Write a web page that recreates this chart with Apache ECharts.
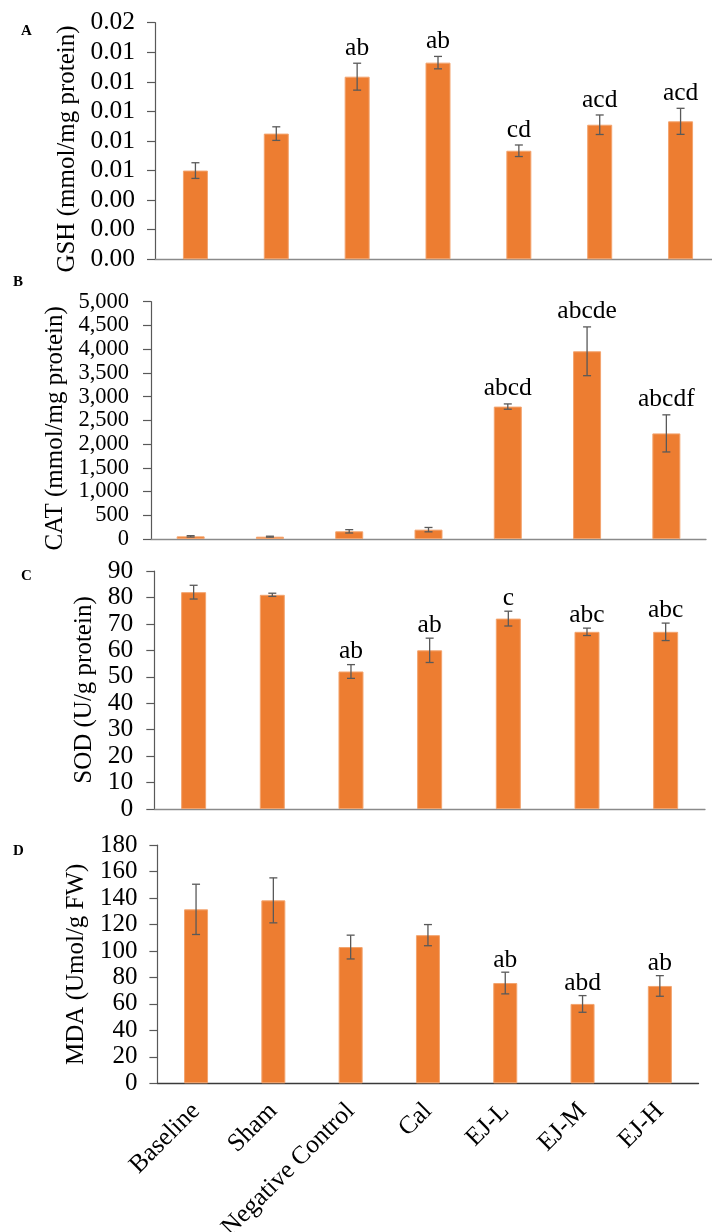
<!DOCTYPE html>
<html>
<head>
<meta charset="utf-8">
<script src="https://cdn.jsdelivr.net/npm/echarts@6/dist/echarts.min.js"></script>
<style>
html,body{margin:0;padding:0;background:#fff;}
#chart{width:712px;height:1232px;}
</style>
</head>
<body>
<div id="chart"></div>
<script>
// ---------- data ----------
const categories = ['Baseline', 'Sham', 'Negative Control', 'Cal', 'EJ-L', 'EJ-M', 'EJ-H'];

const gshMean = [0.0060, 0.0085, 0.01235, 0.0133, 0.00734, 0.0091, 0.00933];
const gshErr  = [0.00053, 0.00046, 0.00091, 0.00042, 0.00039, 0.00066, 0.00088];
const gshSig  = ['', '', 'ab', 'ab', 'cd', 'acd', 'acd'];

const catMean = [56, 49, 162, 197, 2790, 3955, 2225];
const catErr  = [14, 10, 35, 46, 56, 514, 391];
const catSig  = ['', '', '', '', 'abcd', 'abcde', 'abcdf'];

const sodMean = [82, 81, 52, 60, 72, 67, 67];
const sodErr  = [2.6, 0.6, 2.6, 4.6, 2.8, 1.4, 3.3];
const sodSig  = ['', '', 'ab', 'ab', 'c', 'abc', 'abc'];

const mdaMean = [131.5, 138.3, 103, 112, 75.8, 60, 73.6];
const mdaErr  = [19, 17, 9, 8, 8.2, 6.3, 7.8];
const mdaSig  = ['', '', '', '', 'ab', 'abd', 'ab'];

const panelLetters = ['A', 'B', 'C', 'D'];
const axisTitles = ['GSH (mmol/mg protein)', 'CAT (mmol/mg protein)', 'SOD (U/g protein)', 'MDA (Umol/g FW)'];
const yMax = [0.016, 5000, 90, 180];
const yInterval = [0.002, 500, 10, 20];
const tickFormatters = [
  v => v.toFixed(2),
  v => v.toLocaleString('en-US'),
  v => String(v),
  v => String(v)
];

// ---------- layout / style ----------
const SERIF = '"Liberation Serif", "Times New Roman", serif';
const ORANGE = '#ED7D31';
const ERR = '#595959';

const layout = [
  { grid: {left: 155, right: -9, top: 22.7, height: 236.6}, nameGap: 66, shift: 16, barWidth: 25, xLine: '#8a8a8a', margin: 20, fs: 25.5, letter: [21, 24], gap: 7 },
  { grid: {left: 151, right: 6, top: 301.7, height: 237.3}, nameGap: 79, shift: 16, barWidth: 28, xLine: '#8a8a8a', margin: 22, fs: 22.5, letter: [13, 275], gap: 8 },
  { grid: {left: 154.3, right: 7, top: 571, height: 238}, nameGap: 48, shift: 0, barWidth: 25, xLine: '#8a8a8a', margin: 21, fs: 25.5, letter: [21, 569], gap: 5 },
  { grid: {left: 157.4, right: 13.5, top: 845.2, height: 238.1}, nameGap: 56, shift: 0, barWidth: 24, xLine: '#3a3a3a', margin: 20, fs: 25, letter: [13, 844], gap: 4 }
];

const means = [gshMean, catMean, sodMean, mdaMean];
const errs = [gshErr, catErr, sodErr, mdaErr];
const sigs = [gshSig, catSig, sodSig, mdaSig];

function makeRender(p) {
  return function (params, api) {
    const i = api.value(0), m = api.value(1), e = api.value(2);
    const top = api.coord([i, m + e]);
    const bot = api.coord([i, m - e]);
    const x = top[0];
    const cap = 4;
    const ls = {stroke: ERR, lineWidth: 1.3};
    const children = [
      {type: 'line', shape: {x1: x, y1: top[1], x2: x, y2: bot[1]}, style: ls},
      {type: 'line', shape: {x1: x - cap, y1: top[1], x2: x + cap, y2: top[1]}, style: ls},
      {type: 'line', shape: {x1: x - cap, y1: bot[1], x2: x + cap, y2: bot[1]}, style: ls}
    ];
    const s = sigs[p][i];
    if (s) {
      children.push({
        type: 'text', x: x, y: top[1] - layout[p].gap + 5,
        style: {text: s, align: 'center', verticalAlign: 'bottom', fontSize: 25.5, fontFamily: SERIF, fill: '#000'}
      });
    }
    return {type: 'group', children};
  };
}

const grids = [], xAxes = [], yAxes = [], series = [], graphics = [];
for (let p = 0; p < 4; p++) {
  const L = layout[p];
  grids.push(Object.assign({outerBoundsMode: 'none', containLabel: false}, L.grid));
  xAxes.push({
    type: 'category', gridIndex: p, data: categories,
    axisLine: {lineStyle: {color: L.xLine, width: 1.3}},
    axisTick: {show: false},
    axisLabel: p === 3 ? {
      show: true, interval: 0, rotate: 45, margin: 24, hideOverlap: false,
      fontSize: 25.5, fontFamily: SERIF, color: '#000'
    } : {show: false}
  });
  yAxes.push({
    type: 'value', gridIndex: p, min: 0, max: yMax[p], interval: yInterval[p],
    name: axisTitles[p], nameLocation: 'middle', nameGap: L.nameGap,
    nameTextStyle: {fontSize: 25, fontFamily: SERIF, color: '#000', padding: [0, L.shift, 0, 0]},
    axisLine: {show: true, lineStyle: {color: '#595959', width: 1.2}},
    axisTick: {show: true, length: 8, lineStyle: {color: '#595959', width: 1.2}},
    splitLine: {show: false},
    axisLabel: {fontSize: L.fs, fontFamily: SERIF, color: '#000', margin: L.margin,
      showMinLabel: true, showMaxLabel: true, hideOverlap: false, formatter: tickFormatters[p]}
  });
  series.push({
    type: 'bar', xAxisIndex: p, yAxisIndex: p, data: means[p], barWidth: L.barWidth,
    itemStyle: {color: ORANGE, borderColor: '#F3A46E', borderWidth: 1},
    silent: true
  });
  series.push({
    type: 'custom', xAxisIndex: p, yAxisIndex: p,
    data: means[p].map((m, i) => [i, m, errs[p][i]]),
    encode: {x: 0, y: 1},
    renderItem: makeRender(p), z: 5, clip: false, silent: true
  });
  graphics.push({
    type: 'text', left: L.letter[0], top: L.letter[1],
    style: {text: panelLetters[p], fontSize: 15, fontWeight: 'bold', fontFamily: SERIF, fill: '#000'}
  });
}

const chart = echarts.init(document.getElementById('chart'), null, {renderer: 'canvas'});
chart.setOption({
  backgroundColor: '#fff',
  animation: false,
  grid: grids,
  xAxis: xAxes,
  yAxis: yAxes,
  series: series,
  graphic: graphics
});
</script>
</body>
</html>
